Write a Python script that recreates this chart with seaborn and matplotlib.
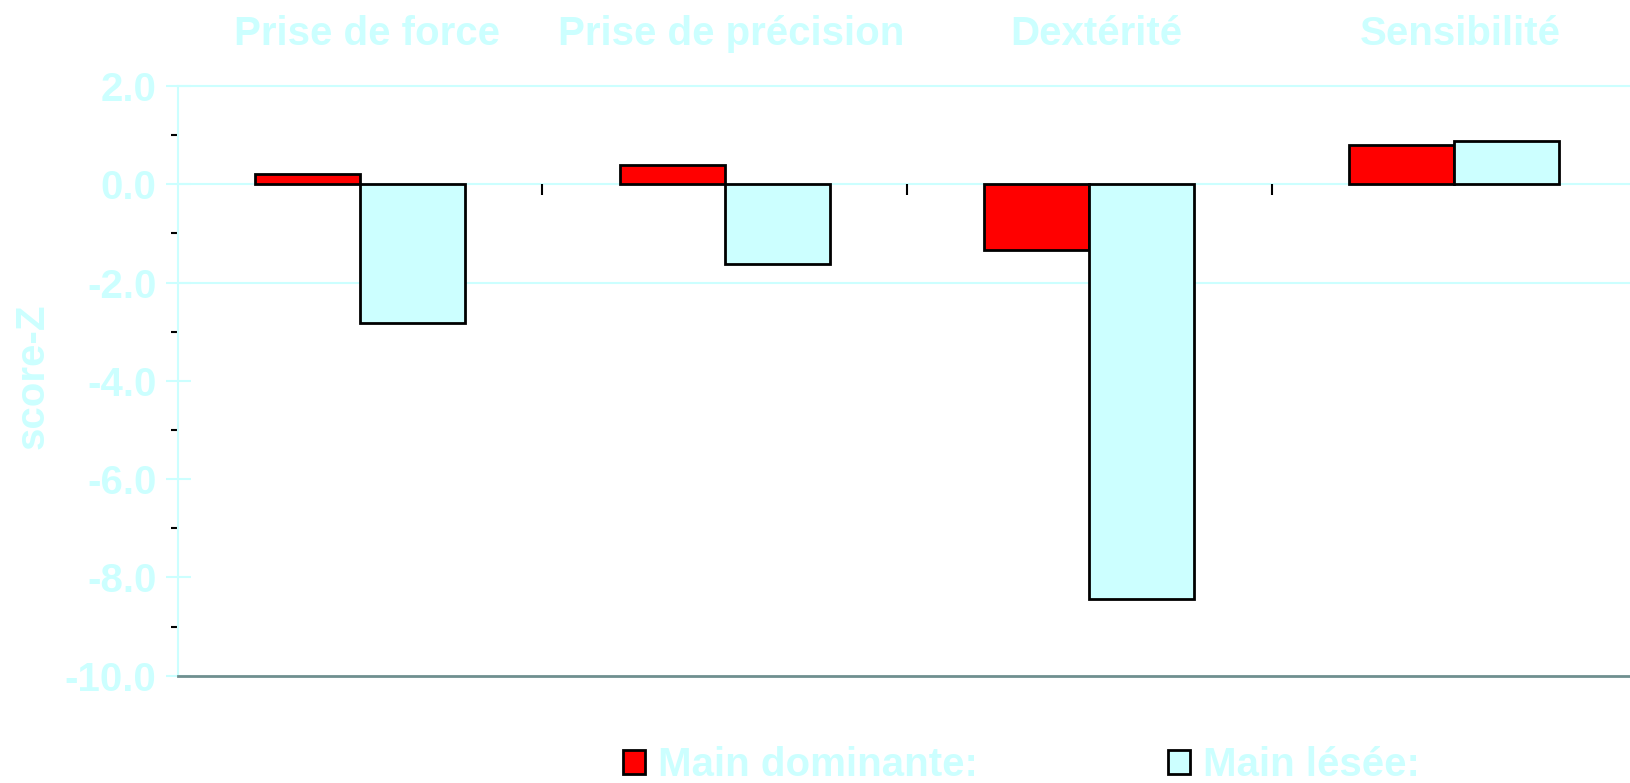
import numpy as np
import pandas as pd
import matplotlib
matplotlib.use('Agg')
import matplotlib.pyplot as plt
import matplotlib.transforms as mtransforms
import seaborn as sns
from matplotlib.ticker import MultipleLocator, FormatStrFormatter

# values
categories = ['Prise de force', 'Prise de précision', 'Dextérité', 'Sensibilité']
series_names = ['Main dominante:', 'Main lésée:']
dominante = [0.21, 0.40, -1.34, 0.80]
lesee = [-2.82, -1.63, -8.44, 0.89]
y_ticks = [2, 0, -2, -4, -6, -8, -10]
grid_levels = [0, -2]

CYAN = '#CCFFFF'
RED = '#FF0000'
FS = 29

df = pd.DataFrame({
    'categorie': categories * 2,
    'main': [series_names[0]] * len(categories) + [series_names[1]] * len(categories),
    'score': dominante + lesee,
})

sns.set_style('white')
plt.rcParams['font.family'] = ['Liberation Sans', 'DejaVu Sans']
plt.rcParams['font.weight'] = 'bold'

fig = plt.figure(figsize=(16.31, 7.83), dpi=100)
ax = fig.add_axes([0.1091, 0.137, 0.894, 0.7532])

sns.barplot(data=df, x='categorie', y='score', hue='main', order=categories,
            hue_order=series_names, palette=[RED, CYAN], saturation=1,
            width=0.576, edgecolor='black', linewidth=2, ax=ax, zorder=3)

ax.set_xlim(-0.5, len(categories) - 0.5)
ax.set_ylim(-10, 2)

# reference lines in the plot area
for lvl in grid_levels:
    ax.axhline(lvl, color=CYAN, lw=1.5, zorder=1)

# small separators between the groups, hanging under the zero line
ax.vlines(np.arange(len(categories) - 1) + 0.5, -0.22, 0, color='black', lw=1.5, zorder=2)

# category names on top
ax.xaxis.tick_top()
ax.set_xlabel('')
ax.tick_params(axis='x', length=0, pad=24, labelsize=FS, labelcolor=CYAN)
shift = mtransforms.ScaledTranslation(5 / 72, 0, fig.dpi_scale_trans)
for lab in ax.get_xticklabels():
    lab.set_transform(lab.get_transform() + shift)

# y axis
ax.set_yticks(y_ticks)
ax.yaxis.set_major_formatter(FormatStrFormatter('%.1f'))
ax.yaxis.set_minor_locator(MultipleLocator(1))
ax.tick_params(axis='y', which='major', left=True, direction='inout', length=18, width=1.5,
               color=CYAN, labelsize=FS, labelcolor=CYAN, pad=6.5)
ax.tick_params(axis='y', which='minor', left=True, direction='out', length=5, width=1.5,
               color='black')
ax.set_ylabel('score-Z', fontsize=FS, color=CYAN, fontweight='bold')
ax.yaxis.set_label_coords(-0.0868, 0.508)

for side in ['left', 'top']:
    ax.spines[side].set_color(CYAN)
    ax.spines[side].set_linewidth(1.5)
ax.spines['bottom'].set_color('#6F8F8F')
ax.spines['bottom'].set_linewidth(2)
ax.spines['right'].set_visible(False)

handles, labels = ax.get_legend_handles_labels()
ax.get_legend().remove()
fig.legend(handles, labels, loc='center left', bbox_to_anchor=(0.3818, 0.023), ncol=2,
           frameon=False, prop={'size': FS, 'weight': 'bold'}, labelcolor=CYAN,
           handlelength=0.546, handleheight=0.546, handletextpad=0.33, columnspacing=4.72,
           borderpad=0, borderaxespad=0)

fig.savefig('out.png', dpi=100)
